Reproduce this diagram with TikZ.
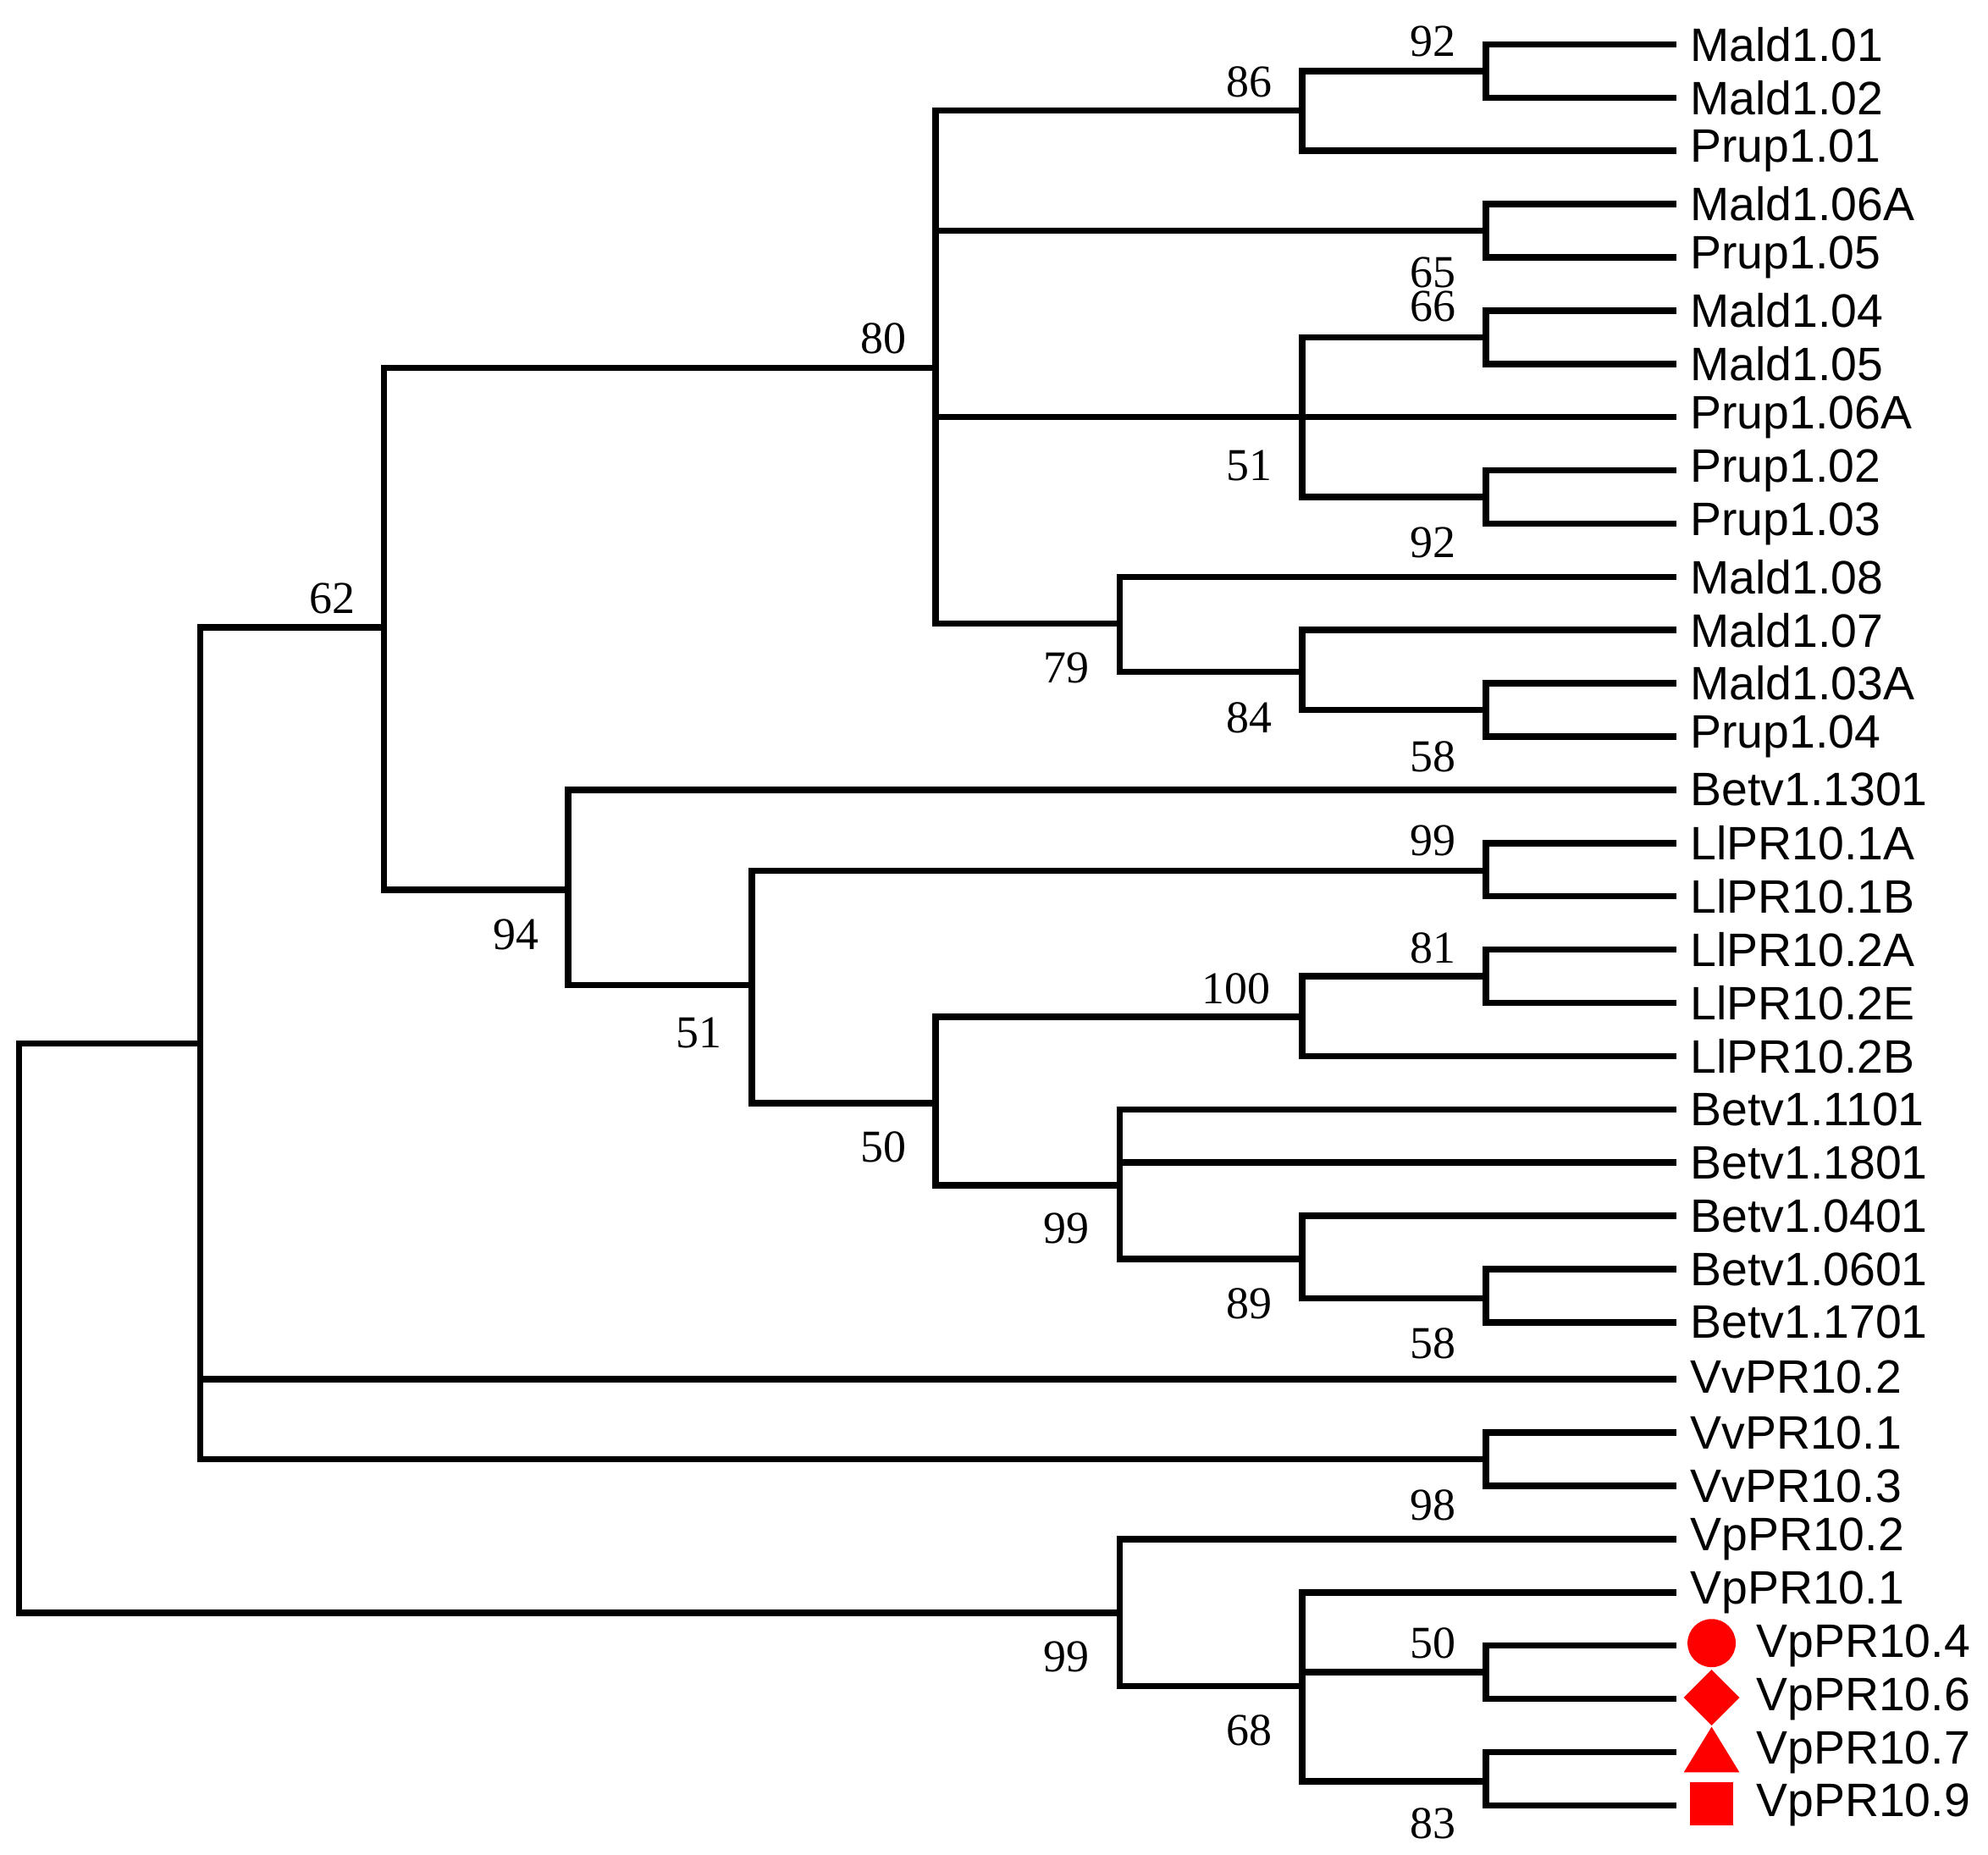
\documentclass[tikz,border=0pt]{standalone}
\usepackage{fontspec}
\setmainfont{Liberation Serif}
\newfontfamily\lab{Liberation Sans}
\begin{document}
\begin{tikzpicture}[x=1pt,y=-1pt,br/.style={line width=5pt,line cap=rect},
 leaf/.style={anchor=west,font=\lab\fontsize{37}{37}\selectfont,inner sep=0pt},
 bs/.style={font=\fontsize{36}{36}\selectfont,inner sep=0pt},
 sym/.style={fill=red,draw=none}]
\useasboundingbox (0,0) rectangle (1568,1463);
\def\T{1320}
% leaves
\foreach \n/\y in {Mald1.01/35,Mald1.02/77,Prup1.01/119,Mald1.06A/161,Prup1.05/203,Mald1.04/245,Mald1.05/287,Prup1.06A/329,Prup1.02/371,Prup1.03/413,Mald1.08/455,Mald1.07/497,Mald1.03A/539,Prup1.04/581,Betv1.1301/623,LlPR10.1A/665,LlPR10.1B/707,LlPR10.2A/749,LlPR10.2E/791,LlPR10.2B/833,Betv1.1101/875,Betv1.1801/917,Betv1.0401/959,Betv1.0601/1001,Betv1.1701/1043,VvPR10.2/1086,VvPR10.1/1130,VvPR10.3/1172,VpPR10.2/1214,VpPR10.1/1256}
 \node[leaf] at (1333,\y) {\n};
\foreach \n/\y in {VpPR10.4/1298,VpPR10.6/1340,VpPR10.7/1382,VpPR10.9/1424}
 \node[leaf] at (1385,\y) {\n};
\fill[red] (1350,1296) circle (19);
\fill[red] (1350,1317) -- (1372,1339) -- (1350,1361) -- (1328,1339) -- cycle;
\fill[red] (1350,1362) -- (1372,1398) -- (1328,1398) -- cycle;
\fill[red] (1333,1406) rectangle (1367,1440);
% branches
\draw[br] (\T,35)--(1172,35)--(1172,77)--(\T,77) (1172,56)--(1027,56)--(1027,119)--(\T,119)
 (1027,87)--(738,87)--(738,492)--(883,492)
 (\T,161)--(1172,161)--(1172,203)--(\T,203) (1172,182)--(738,182)
 (\T,245)--(1172,245)--(1172,287)--(\T,287) (1172,266)--(1027,266)--(1027,392)--(1172,392)
 (\T,371)--(1172,371)--(1172,413)--(\T,413) (738,329)--(\T,329)
 (\T,455)--(883,455)--(883,530)--(1027,530) (\T,497)--(1027,497)--(1027,560)--(1172,560)
 (\T,539)--(1172,539)--(1172,581)--(\T,581)
 (738,290)--(303,290)--(303,702)--(448,702)
 (\T,623)--(448,623)--(448,777)--(593,777)
 (\T,665)--(1172,665)--(1172,707)--(\T,707) (1172,687)--(593,687)--(593,870)--(738,870)
 (\T,749)--(1172,749)--(1172,791)--(\T,791) (1172,770)--(1027,770)--(1027,833)--(\T,833)
 (1027,802)--(738,802)--(738,935)--(883,935)
 (\T,875)--(883,875)--(883,993)--(1027,993) (883,917)--(\T,917)
 (\T,959)--(1027,959)--(1027,1024)--(1172,1024)
 (\T,1001)--(1172,1001)--(1172,1043)--(\T,1043)
 (303,495)--(158,495)--(158,1151)--(1172,1151) (158,1088)--(\T,1088)
 (\T,1130)--(1172,1130)--(1172,1172)--(\T,1172)
 (158,823)--(15,823)--(15,1272)--(883,1272)
 (\T,1214)--(883,1214)--(883,1330)--(1027,1330)
 (\T,1256)--(1027,1256)--(1027,1405)--(1172,1405)
 (\T,1298)--(1172,1298)--(1172,1340)--(\T,1340) (1172,1319)--(1027,1319)
 (\T,1382)--(1172,1382)--(1172,1424)--(\T,1424);
% bootstrap values
\foreach \v/\x/\y in {92/1130/33,86/985/65,65/1130/215,66/1130/242,80/697/267,51/985/367,92/1130/428,79/841/527,84/985/566,58/1130/597,62/262/472,94/407/737,51/551/815,99/1130/663,81/1130/748,100/975/780,50/697/905,99/841/969,89/985/1028,58/1130/1060,98/1130/1187,99/841/1307,68/985/1365,50/1130/1296,83/1130/1438}
 \node[bs] at (\x,\y) {\v};
\end{tikzpicture}
\end{document}
